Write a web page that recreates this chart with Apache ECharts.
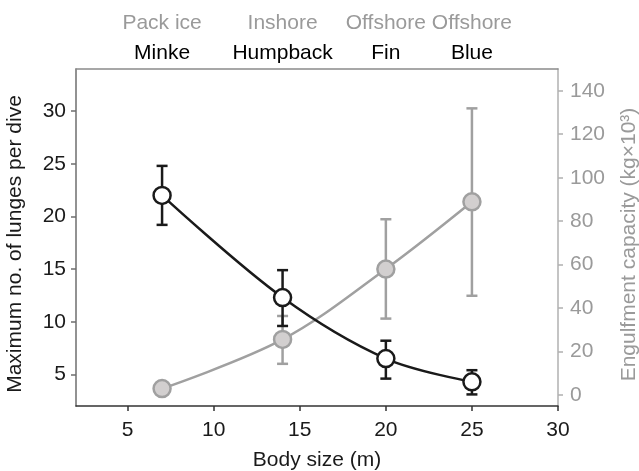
<!DOCTYPE html>
<html><head><meta charset="utf-8">
<script src="https://cdn.jsdelivr.net/npm/echarts@6/dist/echarts.min.js"></script>
<style>html,body{margin:0;padding:0;background:#fff}#c{width:639px;height:471px}</style>
</head><body><div id="c"></div>
<script>
const bodySize = [7, 14, 20, 25];
const species = ['Minke', 'Humpback', 'Fin', 'Blue'];
const habitat = ['Pack ice', 'Inshore', 'Offshore', 'Offshore'];
const lunges = [22.0, 12.3, 6.5, 4.3];
const lungesHigh = [24.8, 14.9, 8.2, 5.4];
const lungesLow = [19.2, 9.6, 4.6, 3.1];
const engulf = [3.0, 25.6, 58.0, 88.9];
const engulfHigh = [3.0, 36.4, 80.9, 131.9];
const engulfLow = [3.0, 14.4, 35.2, 45.7];
const xTicks = [5, 10, 15, 20, 25, 30];
const leftTicks = [5, 10, 15, 20, 25, 30];
const rightTicks = [0, 20, 40, 60, 80, 100, 120, 140];

const FONT = 'Liberation Sans, Arial, Helvetica, sans-serif';
const FS = 21;
const BLACK = '#1a1a1a';
const GRAY = '#a0a0a0';
const GRAYTXT = '#9a9a9a';

function errRender(color, lw) {
  return function (params, api) {
    const x = api.value(0), lo = api.value(1), hi = api.value(2);
    const pHi = api.coord([x, hi]), pLo = api.coord([x, lo]);
    const w = 5.5;
    const st = { stroke: color, lineWidth: lw };
    return { type: 'group', children: [
      { type: 'line', shape: { x1: pHi[0], y1: pHi[1], x2: pLo[0], y2: pLo[1] }, style: st },
      { type: 'line', shape: { x1: pHi[0] - w, y1: pHi[1], x2: pHi[0] + w, y2: pHi[1] }, style: st },
      { type: 'line', shape: { x1: pLo[0] - w, y1: pLo[1], x2: pLo[0] + w, y2: pLo[1] }, style: st }
    ]};
  };
}

const chart = echarts.init(document.getElementById('c'));
chart.setOption({
  animation: false,
  textStyle: { fontFamily: FONT },
  grid: { left: 76, right: 81, top: 69, bottom: 65, containLabel: false, outerBoundsMode: 'none' },
  xAxis: [{
    type: 'value', position: 'bottom', min: 2, max: 30,
    name: 'Body size (m)', nameLocation: 'middle', nameGap: 44,
    nameTextStyle: { fontSize: FS, color: BLACK, fontFamily: FONT },
    axisLine: { show: true, onZero: false, lineStyle: { color: '#333', width: 1.5 } },
    axisTick: { show: true, inside: false, length: 5, lineStyle: { color: '#333', width: 1.5 }, customValues: xTicks },
    axisLabel: { fontSize: FS, color: BLACK, margin: 14, customValues: xTicks, fontFamily: FONT },
    splitLine: { show: false }
  }, {
    type: 'value', position: 'top', min: 2, max: 30,
    axisLine: { show: true, onZero: false, lineStyle: { color: '#8a8a8a', width: 1.5 } },
    axisTick: { show: false },
    axisLabel: {
      customValues: bodySize, margin: 1, fontFamily: FONT,
      formatter: function (v) { const i = bodySize.indexOf(v); return '{h|' + habitat[i] + '}\n{s|' + species[i] + '}'; },
      rich: {
        h: { fontSize: FS, color: GRAYTXT, lineHeight: 30, fontFamily: FONT },
        s: { fontSize: FS, color: '#000', lineHeight: 30, fontFamily: FONT }
      }
    },
    splitLine: { show: false }
  }],
  yAxis: [{
    type: 'value', position: 'left', min: 2, max: 34,
    name: 'Maximum no. of lunges per dive', nameLocation: 'middle', nameGap: 50,
    nameTextStyle: { fontSize: FS, color: BLACK, fontFamily: FONT, padding: [0, 13, 0, 0] },
    axisLine: { show: true, onZero: false, lineStyle: { color: '#6e6e6e', width: 1.5 } },
    axisTick: { show: true, length: 5, lineStyle: { color: '#6e6e6e', width: 1.5 }, customValues: leftTicks },
    axisLabel: { fontSize: FS, color: BLACK, margin: 10, customValues: leftTicks, fontFamily: FONT },
    splitLine: { show: false }
  }, {
    type: 'value', position: 'right', min: -5, max: 150,
    name: 'Engulfment capacity (kg×10³)', nameLocation: 'middle', nameGap: 61,
    nameTextStyle: { fontSize: FS, color: GRAYTXT, fontFamily: FONT, padding: [0, 14, 0, 0] },
    axisLine: { show: true, onZero: false, lineStyle: { color: '#b0b0b0', width: 1.5 } },
    axisTick: { show: true, length: 5, lineStyle: { color: '#b0b0b0', width: 1.5 }, customValues: rightTicks },
    axisLabel: { fontSize: FS, color: GRAYTXT, margin: 12, customValues: rightTicks, fontFamily: FONT },
    splitLine: { show: false }
  }],
  series: [{
    type: 'custom', name: 'engulfErr', xAxisIndex: 0, yAxisIndex: 1, z: 1,
    renderItem: errRender(GRAY, 2.5),
    encode: { x: 0, y: [1, 2] },
    data: bodySize.map((x, i) => [x, engulfLow[i], engulfHigh[i]])
  }, {
    type: 'line', name: 'engulf', xAxisIndex: 0, yAxisIndex: 1, z: 2,
    smooth: 0.35, symbol: 'circle', symbolSize: 17,
    lineStyle: { color: GRAY, width: 2.5 },
    itemStyle: { color: '#d2cfcf', borderColor: GRAY, borderWidth: 2.5 },
    data: bodySize.map((x, i) => [x, engulf[i]])
  }, {
    type: 'custom', name: 'lungesErr', xAxisIndex: 0, yAxisIndex: 0, z: 3,
    renderItem: errRender(BLACK, 2.5),
    encode: { x: 0, y: [1, 2] },
    data: bodySize.map((x, i) => [x, lungesLow[i], lungesHigh[i]])
  }, {
    type: 'line', name: 'lunges', xAxisIndex: 0, yAxisIndex: 0, z: 4,
    smooth: 0.35, symbol: 'circle', symbolSize: 17,
    lineStyle: { color: BLACK, width: 2.5 },
    itemStyle: { color: '#fff', borderColor: BLACK, borderWidth: 2.5 },
    data: bodySize.map((x, i) => [x, lunges[i]])
  }]
});
</script></body></html>
